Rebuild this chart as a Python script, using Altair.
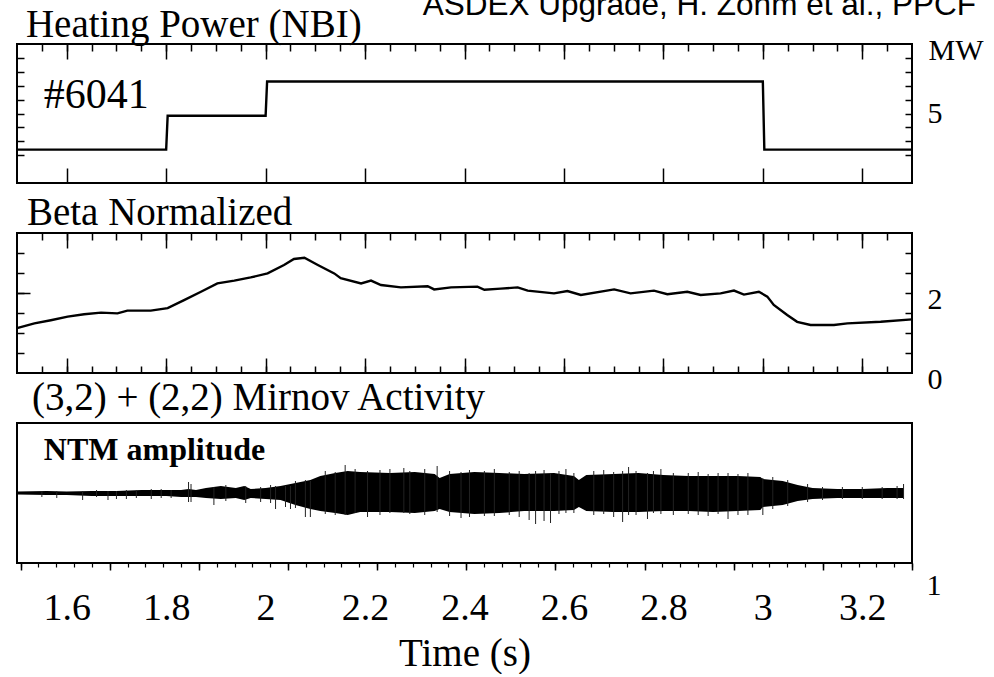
import altair as alt
import pandas as pd

SERIF = "Liberation Serif"
SANS = "Liberation Sans"

# ---------------- data ----------------
# texts: label, position in the panel's own data units (time, value) of the baseline start
header_text = ["ASDEX Upgrade, H. Zohm et al., PPCF"]
header_pos = [2.316, 12.1]
title1_text = ["Heating Power (NBI)"]
title1_pos = [1.518, 10.53]
shot_label = ["#6041"]
shot_pos = [1.554, 5.4]
title2_text = ["Beta Normalized"]
title2_pos = [1.520, 3.70]
title3_text = ["(3,2) + (2,2)  Mirnov Activity"]
title3_pos = [1.530, 83]
ntm_text = ["NTM amplitude"]
ntm_pos = [1.554, 33]

# Heating power (NBI), MW
power_t = [1.50, 1.80, 1.803, 2.00, 2.003, 3.00, 3.003, 3.30]
power_mw = [2.4, 2.4, 4.84, 4.84, 7.3, 7.3, 2.4, 2.4]

# Beta normalized
beta_t = [1.50, 1.535, 1.568, 1.602, 1.635, 1.669, 1.702, 1.722, 1.769, 1.803,
          1.836, 1.870, 1.903, 1.937, 1.970, 2.004, 2.037, 2.057, 2.078, 2.105,
          2.138, 2.151, 2.192, 2.212, 2.232, 2.272, 2.326, 2.339, 2.373, 2.426,
          2.440, 2.473, 2.507, 2.527, 2.580, 2.607, 2.634, 2.701, 2.734, 2.781,
          2.808, 2.848, 2.875, 2.915, 2.942, 2.962, 2.992, 3.009, 3.022, 3.049,
          3.069, 3.096, 3.143, 3.170, 3.237, 3.30]
beta_v = [1.12, 1.24, 1.32, 1.41, 1.47, 1.51, 1.49, 1.56, 1.56, 1.62,
          1.82, 2.03, 2.24, 2.31, 2.39, 2.49, 2.70, 2.85, 2.88, 2.70,
          2.49, 2.37, 2.24, 2.31, 2.20, 2.14, 2.17, 2.09, 2.14, 2.16,
          2.08, 2.11, 2.14, 2.06, 1.99, 2.05, 1.95, 2.09, 1.99, 2.06,
          1.97, 2.03, 1.95, 1.99, 2.06, 1.96, 2.03, 1.91, 1.70, 1.45,
          1.28, 1.20, 1.20, 1.24, 1.28, 1.34]

# NTM amplitude envelope (arb. units), upper and lower excursion
ntm_t = [1.50, 1.56, 1.60, 1.65, 1.70, 1.75, 1.80, 1.83, 1.845, 1.86,
         1.88, 1.91, 1.94, 1.957, 1.97, 2.00, 2.03, 2.06, 2.09, 2.11,
         2.14, 2.165, 2.19, 2.25, 2.30, 2.34, 2.35, 2.37, 2.42, 2.47,
         2.52, 2.58, 2.62, 2.63, 2.645, 2.70, 2.75, 2.80, 2.85, 2.90,
         2.95, 2.995, 3.00, 3.04, 3.07, 3.10, 3.15, 3.20, 3.25, 3.283]
ntm_up = [1.5, 2, 1.5, 2, 2, 3, 3, 3, 4, 3,
          5, 7, 5, 7, 4, 5, 7, 10, 13, 17,
          20, 22, 21, 20, 21, 19, 15, 19, 21, 20,
          19, 20, 17, 13, 18, 19, 20, 18, 17, 17,
          17, 16, 14, 12, 8, 5, 4, 4, 5, 5]
ntm_lo = [1.5, 2, 2, 3, 3, 3, 3, 4, 4, 4,
          5, 6, 5, 7, 5, 6, 7, 12, 16, 18,
          20, 22, 19, 19, 20, 18, 16, 19, 21, 20,
          18, 18, 17, 14, 18, 19, 19, 18, 18, 19,
          18, 17, 14, 12, 8, 6, 5, 5, 5, 5]

# isolated spikes of the Mirnov signal (upper / lower excursion)
spike_t = [1.55, 1.58, 1.632, 1.66, 1.683, 1.70, 1.72, 1.74, 1.77, 1.79,
           1.81, 1.845, 1.85, 1.896, 1.92, 1.96, 1.99, 2.01, 2.02, 2.04,
           2.05, 2.06, 2.08, 2.09, 2.12, 2.14, 2.16, 2.18, 2.205, 2.23,
           2.25, 2.278, 2.29, 2.32, 2.345, 2.37, 2.393, 2.41, 2.44, 2.46,
           2.49, 2.51, 2.53, 2.543, 2.56, 2.573, 2.59, 2.604, 2.62, 2.66,
           2.68, 2.70, 2.718, 2.73, 2.745, 2.768, 2.78, 2.795, 2.82, 2.85,
           2.87, 2.89, 2.91, 2.93, 2.95, 2.97, 3.0, 3.02, 3.05, 3.09,
           3.12, 3.16, 3.20, 3.24, 3.27, 3.283]
spike_top = [2, 2, 2, 3, 2, 2, 3, 3, 4, 4,
             3, 11, 9, 6, 8, 7, 6, 8, 7, 7,
             7, 12, 13, 12, 22, 21, 28, 24, 22, 23,
             24, 25, 22, 24, 27, 22, 21, 23, 22, 24,
             21, 22, 20, 22, 23, 20, 22, 24, 20, 22,
             23, 21, 22, 26, 22, 20, 22, 24, 20, 20,
             21, 19, 20, 20, 19, 20, 15, 16, 13, 9,
             6, 6, 6, 6, 7, 9]
spike_bot = [4, 5, 7, 4, 7, 6, 6, 5, 6, 5,
             5, 9, 9, 12, 8, 10, 9, 10, 16, 14,
             16, 15, 24, 24, 21, 22, 22, 20, 24, 22,
             20, 20, 21, 22, 19, 23, 25, 24, 23, 23,
             22, 24, 27, 31, 28, 30, 21, 20, 20, 22,
             21, 24, 29, 22, 22, 26, 20, 21, 22, 21,
             22, 23, 21, 26, 22, 22, 22, 16, 13, 9,
             7, 6, 6, 6, 6, 6]

time_major = [1.6, 1.8, 2.0, 2.2, 2.4, 2.6, 2.8, 3.0, 3.2]
time_minor = [round(1.55 + 0.05 * i, 2) for i in range(35)]
mirnov_major = list(range(11))
mirnov_minor = [round(0.2 * i, 1) for i in range(51)]

# ---------------- helpers ----------------
W = 895
xs = alt.Scale(domain=[1.5, 3.3], nice=False, zero=False)


def in_ticks(orient, values, size):
    return alt.Axis(orient=orient, values=values, tickSize=size, offset=-size,
                    labels=False, domain=False, grid=False, title=None,
                    tickColor="black", tickWidth=1.5)


def text_layer(label, pos, yscale, font=SERIF, size=39, weight="normal"):
    df = pd.DataFrame({"label": label, "x": [pos[0]], "y": [pos[1]]})
    return alt.Chart(df).mark_text(
        font=font, fontSize=size, fontWeight=weight, align="left",
        baseline="alphabetic", color="black"
    ).encode(x=alt.X("x:Q", scale=xs, axis=None),
             y=alt.Y("y:Q", scale=yscale, axis=None),
             text="label:N")


# ---------------- panel 1: heating power ----------------
pw = pd.DataFrame({"t": power_t, "p": power_mw, "i": list(range(len(power_t)))})
ys1 = alt.Scale(domain=[0, 10], nice=False, zero=False)
b1 = alt.Chart(pw)
p1a = b1.mark_line(color="black", strokeWidth=2.4).encode(
    x=alt.X("t:Q", scale=xs, axis=in_ticks("top", time_major, 15)),
    y=alt.Y("p:Q", scale=ys1, axis=in_ticks("left", list(range(2, 10)), 7)),
    order="i:Q")
p1b = b1.mark_line(opacity=0).encode(
    x=alt.X("t:Q", scale=xs, axis=in_ticks("top", time_minor, 7)),
    y=alt.Y("p:Q", scale=ys1, axis=in_ticks("right", list(range(2, 10)), 7)),
    order="i:Q")
p1c = b1.mark_line(opacity=0).encode(
    x=alt.X("t:Q", scale=xs, axis=in_ticks("bottom", time_major, 15)),
    y=alt.Y("p:Q", scale=ys1, axis=alt.Axis(
        orient="right", values=[5], ticks=False, tickSize=0, domain=False, grid=False,
        labelPadding=15, labelFont=SERIF, labelFontSize=30, labelColor="black",
        labelFlush=False, labelBaseline="middle",
        title="MW", titleAngle=0, titleX=16, titleY=6, titleAlign="left",
        titleBaseline="middle", titleFont=SERIF, titleFontSize=30,
        titleFontWeight="normal", titleColor="black")),
    order="i:Q")

top = alt.layer(
    p1a, p1b, p1c,
    text_layer(shot_label, shot_pos, ys1, size=42),
    text_layer(title1_text, title1_pos, ys1),
    text_layer(header_text, header_pos, ys1, font=SANS, size=31.5),
).resolve_axis(x="independent", y="independent").properties(width=W, height=139)

# ---------------- panel 2: beta normalized ----------------
bt = pd.DataFrame({"t": beta_t, "b": beta_v})
ys2 = alt.Scale(domain=[0, 3.5], nice=False, zero=False)
beta_ticks = [0.5, 1.0, 1.5, 2.0, 2.5, 3.0]
b2 = alt.Chart(bt)
p2a = b2.mark_line(color="black", strokeWidth=2.4).encode(
    x=alt.X("t:Q", scale=xs, axis=in_ticks("top", time_major, 15)),
    y=alt.Y("b:Q", scale=ys2, axis=in_ticks("left", beta_ticks, 7)))
p2b = b2.mark_line(opacity=0).encode(
    x=alt.X("t:Q", scale=xs, axis=in_ticks("top", time_minor, 7)),
    y=alt.Y("b:Q", scale=ys2, axis=in_ticks("right", beta_ticks, 7)))
p2c = b2.mark_line(opacity=0).encode(
    x=alt.X("t:Q", scale=xs, axis=in_ticks("bottom", time_major, 15)),
    y=alt.Y("b:Q", scale=ys2, axis=alt.Axis(
        orient="right", values=[0, 2], ticks=False, tickSize=0, domain=False, grid=False,
        labelPadding=15, labelFont=SERIF, labelFontSize=30, labelColor="black",
        labelFlush=False, labelBaseline="middle", labelOffset=6, title=None)))
p2d = b2.mark_line(opacity=0).encode(
    x=alt.X("t:Q", scale=xs, axis=in_ticks("bottom", time_minor, 7)),
    y=alt.Y("b:Q", scale=ys2, axis=in_ticks("left", [2.0], 13)))

mid = alt.layer(
    p2a, p2b, p2c, p2d, text_layer(title2_text, title2_pos, ys2)
).resolve_axis(x="independent", y="independent").properties(width=W, height=140)

# ---------------- panel 3: Mirnov activity ----------------
nt = pd.DataFrame({"t": ntm_t, "up": ntm_up, "lo": [-v for v in ntm_lo]})
sp = pd.DataFrame({"t": spike_t, "top": spike_top, "bot": [-v for v in spike_bot]})
ys3 = alt.Scale(domain=[-70, 70], nice=False, zero=False)
ms = alt.Scale(domain=[-0.04, 10], nice=False, zero=False)

area = alt.Chart(nt).mark_area(color="black", opacity=1).encode(
    x=alt.X("t:Q", scale=xs, axis=alt.Axis(
        orient="bottom", values=time_major, format=".1~f", ticks=False, tickSize=0,
        domain=False, grid=False, labelPadding=45, labelBaseline="middle",
        labelFont=SERIF, labelFontSize=38, labelColor="black", labelFlush=False,
        labelOverlap=False, title="Time (s)", titleFont=SERIF, titleFontSize=39,
        titleFontWeight="normal", titleColor="black", titleY=90,
        titleBaseline="middle")),
    y=alt.Y("up:Q", scale=ys3, axis=alt.Axis(
        orient="left", values=[0], tickSize=5, labels=False, domain=False,
        grid=False, title=None, tickColor="black", tickWidth=1.5)),
    y2="lo:Q")
spikes = alt.Chart(sp).mark_rule(color="#222222", strokeWidth=1).encode(
    x=alt.X("t:Q", scale=xs, axis=None),
    y=alt.Y("top:Q", scale=ys3, axis=None),
    y2="bot:Q")
ud = pd.DataFrame({"u": [0, 10], "z": [0, 0]})
umaj = alt.Chart(ud).mark_point(opacity=0).encode(
    x=alt.X("u:Q", scale=ms, axis=alt.Axis(
        orient="bottom", values=mirnov_major, tickSize=7, domain=False, grid=False,
        tickColor="black", tickWidth=1.5, labels=False,
        title="1", titleAngle=0, titleX=W + 14, titleY=22, titleAlign="left",
        titleBaseline="middle", titleFont=SERIF, titleFontSize=30,
        titleFontWeight="normal", titleColor="black")),
    y=alt.Y("z:Q", scale=ys3, axis=None))
umin = alt.Chart(ud).mark_point(opacity=0).encode(
    x=alt.X("u:Q", scale=ms, axis=alt.Axis(
        orient="bottom", values=mirnov_minor, tickSize=4, domain=False, grid=False,
        labels=False, tickColor="black", tickWidth=1.2, title=None)),
    y=alt.Y("z:Q", scale=ys3, axis=None))

bot = alt.layer(
    area, spikes, umaj, umin,
    text_layer(ntm_text, ntm_pos, ys3, size=32, weight="bold"),
    text_layer(title3_text, title3_pos, ys3),
).resolve_scale(x="independent").resolve_axis(x="independent").properties(
    width=W, height=140)

chart = alt.vconcat(top, mid, bot, spacing=50, bounds="flush").properties(
    padding={"left": 11, "top": -12, "right": 0, "bottom": 0},
    background="white",
).configure_view(stroke="black", strokeWidth=2)

chart.save("out.html", embed_options={"renderer": "svg", "actions": False})
